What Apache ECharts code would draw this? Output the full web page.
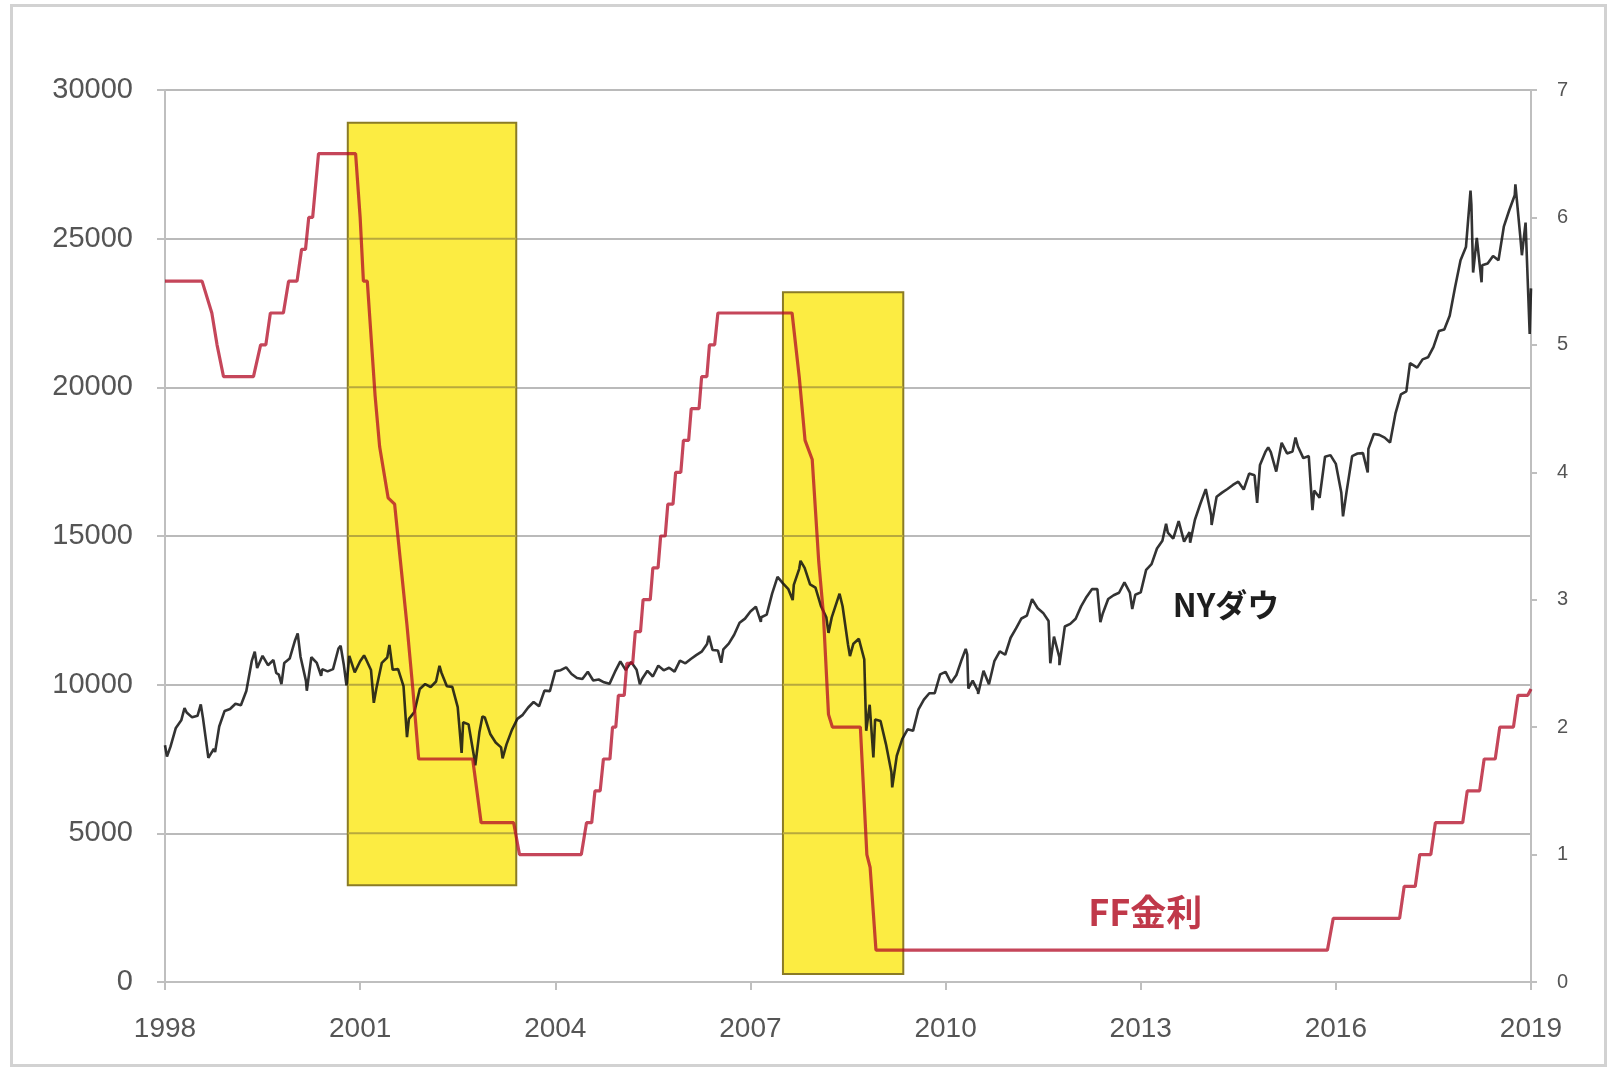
<!DOCTYPE html>
<html><head><meta charset="utf-8">
<script src="https://cdn.jsdelivr.net/npm/echarts/dist/echarts.min.js"></script>
<style>
html,body{margin:0;padding:0;background:#fff;}
#c{position:absolute;left:0;top:0;width:1608px;height:1068px;}
#frame{position:absolute;left:10px;top:4px;width:1591px;height:1057px;border:3px solid #d2d2d2;pointer-events:none;}
</style>
</head><body><div id="c"></div><div id="frame"></div>
<script>
// ---- axis ranges / ticks ----
const xRange = [1998, 2019, 3];
const leftRange = [0, 30000, 5000];
const rightRange = [0, 7, 1];

// ---- NY Dow: month-end closes Jan 1998 .. Dec 2018 ----
const dowMonthlyClose = [
 7907, 8546, 8800, 9063, 8900, 8952, 8883, 7539, 7843, 8592, 9117, 9181,
 9359, 9307, 9786,10789,10560,10971,10655,10829,10337,10730,10878,11497,
10941,10128,10922,10734,10522,10448,10522,11215,10651,10971,10415,10787,
10887,10495, 9879,10735,10912,10502,10523, 9950, 8848, 9075, 9852,10022,
 9920,10106,10404, 9946, 9925, 9243, 8737, 8664, 7592, 8397, 8896, 8342,
 8054, 7891, 7992, 8480, 8850, 8985, 9233, 9416, 9275, 9801, 9782,10454,
10488,10584,10358,10226,10188,10435,10140,10174,10080,10027,10428,10783,
10490,10766,10504,10193,10467,10275,10641,10482,10569,10440,10806,10718,
10865,10993,11109,11367,11168,11150,11186,11381,11679,12081,12222,12463,
12622,12269,12354,13063,13628,13409,13212,13358,13896,13930,13372,13265,
12650,12266,12263,12820,12638,11350,11378,11544,10851, 9325, 8829, 8776,
 8001, 7063, 7609, 8168, 8500, 8447, 9172, 9496, 9712, 9713,10344,10428,
10067,10325,10857,11009,10137, 9774,10466,10015,10788,11118,11006,11578,
11892,12226,12320,12811,12570,12414,12143,11614,10913,11955,12046,12218,
12633,12952,13212,13214,12393,12880,13009,13091,13437,13096,13026,13104,
13861,14054,14579,14840,15116,14910,15500,14810,15130,15546,16086,16577,
15699,16322,16458,16581,16717,16827,16563,17098,17043,17391,17828,17823,
17165,18133,17776,17841,18011,17620,17690,16528,16285,17664,17720,17425,
16466,16517,17685,17774,17787,17930,18432,18401,18308,18142,19124,19763,
19864,20812,20663,20941,21009,21350,21891,21948,22405,23377,24272,24719,
26149,25029,24103,24163,24416,24271,25415,25965,26458,25116,25538,23327
];
// intra-month highs / lows [year, value]
const dowExtremes = [
 [1998.00,7965],[1998.03,7580],[1998.30,9211],[1998.55,9338],[1998.67,7539],[1998.77,7732],
 [1999.38,11107],[1999.71,10393],[1999.79,10019],
 [2000.04,11723],[2000.18,9796],[2000.40,10300],[2000.70,11310],[2000.79,9975],
 [2001.06,10983],[2001.21,9389],[2001.72,8236],[2001.45,11337],
 [2002.22,10635],[2002.56,7702],[2002.77,7286],[2002.88,8931],[2003.19,7524],
 [2005.30,10012],[2006.36,11642],[2006.55,10739],[2007.16,12114],
 [2007.65,12846],[2007.77,14165],[2008.20,11740],[2008.37,13058],[2008.53,10963],
 [2008.78,8451],[2008.89,7552],[2009.18,6547],[2010.31,11205],[2010.35,9870],[2010.50,9686],
 [2011.33,12876],[2011.61,10720],[2011.75,10655],[2012.38,12101],[2012.87,12542],
 [2013.39,15409],[2013.76,14776],[2014.09,15373],[2014.79,16117],[2014.96,17983],
 [2015.38,18312],[2015.64,15871],[2016.11,15660],[2016.49,17140],[2017.14,20812],
 [2018.07,26617],[2018.11,23860],[2018.24,23533],[2018.76,26828],[2018.86,24442],[2018.98,21792]
];

// ---- FF rate path [year, %] ----
const ffRate = [
 [1998.00,5.5],[1998.57,5.5],[1998.72,5.25],[1998.80,5.0],[1998.90,4.75],[1999.36,4.75],
 [1999.47,5.0],[1999.55,5.0],[1999.62,5.25],[1999.82,5.25],[1999.90,5.5],[2000.03,5.5],
 [2000.10,5.75],[2000.16,5.75],[2000.21,6.0],[2000.27,6.0],[2000.36,6.5],[2000.93,6.5],
 [2001.00,6.0],[2001.05,5.5],[2001.11,5.5],[2001.23,4.6],[2001.30,4.2],[2001.43,3.8],
 [2001.53,3.75],[2001.62,3.3],[2001.72,2.8],[2001.81,2.3],[2001.90,1.75],[2002.73,1.75],
 [2002.86,1.25],[2003.36,1.25],[2003.45,1.0],[2004.40,1.0],[2004.48,1.25],[2004.56,1.25],
 [2004.61,1.5],[2004.69,1.5],[2004.74,1.75],[2004.84,1.75],[2004.88,2.0],[2004.93,2.0],
 [2004.97,2.25],[2005.06,2.25],[2005.10,2.5],[2005.19,2.5],[2005.23,2.75],[2005.31,2.75],
 [2005.35,3.0],[2005.46,3.0],[2005.50,3.25],[2005.58,3.25],[2005.62,3.5],[2005.69,3.5],
 [2005.73,3.75],[2005.81,3.75],[2005.85,4.0],[2005.93,4.0],[2005.97,4.25],[2006.05,4.25],
 [2006.09,4.5],[2006.21,4.5],[2006.25,4.75],[2006.33,4.75],[2006.37,5.0],[2006.45,5.0],
 [2006.50,5.25],[2007.64,5.25],[2007.75,4.75],[2007.84,4.25],[2007.95,4.1],[2008.05,3.3],
 [2008.12,2.9],[2008.20,2.1],[2008.26,2.0],[2008.69,2.0],[2008.79,1.0],[2008.84,0.9],
 [2008.93,0.25],[2015.87,0.25],[2015.96,0.5],[2016.98,0.5],[2017.05,0.75],[2017.22,0.75],
 [2017.29,1.0],[2017.46,1.0],[2017.53,1.25],[2017.95,1.25],[2018.02,1.5],[2018.21,1.5],
 [2018.28,1.75],[2018.45,1.75],[2018.52,2.0],[2018.73,2.0],[2018.80,2.25],[2018.95,2.25],
 [2019.00,2.3]
];

// ---- highlighted periods [x0, x1, yTop, yBottom] (left-axis units) ----
const highlightBoxes = [
 [2000.81, 2003.40, 28900, 3250],
 [2007.50, 2009.35, 23200, 270]
];

// ---- annotation labels [text, year, value] ----
const dowLabel = ['NYダウ', 2014.31, 12680];
const ffLabel = ['FF金利', 2013.07, 0.55];

// build dow series data
const dowData = dowMonthlyClose.map((v, i) => [1998 + (i + 1) / 12, v])
  .concat(dowExtremes)
  .sort((a, b) => a[0] - b[0]);

// value-axis grid lines that show through each highlight box: [x0, x1, value]
const boxGridSegs = [];
highlightBoxes.forEach(b => {
  for (let v = leftRange[0]; v <= leftRange[1]; v += leftRange[2]) {
    if (v > b[3] && v < b[2]) boxGridSegs.push([b[0], b[1], v]);
  }
});

const gray = '#bfbfbf';
const gridColor = 'rgba(0,0,0,0.27)';
const labelColor = '#555555';
const fontFam = 'Liberation Sans, Arial, sans-serif';

const boxGridSeries = boxGridSegs.map((s, i) => ({
  name: 'boxgrid' + i, type: 'line', z: 3, yAxisIndex: 0, silent: true,
  symbol: 'none', showSymbol: false,
  data: [[s[0], s[2]], [s[1], s[2]]],
  lineStyle: {color: '#b8a93c', width: 2}
}));

const chart = echarts.init(document.getElementById('c'), null, {renderer: 'canvas'});
chart.setOption({
  animation: false,
  backgroundColor: '#ffffff',
  grid: {left: 165, right: 77, top: 90, bottom: 86, containLabel: false},
  xAxis: {
    type: 'value', min: xRange[0], max: xRange[1], interval: xRange[2],
    axisLine: {show: true, lineStyle: {color: gray, width: 2}},
    axisTick: {show: true, length: 8, lineStyle: {color: gray, width: 2}},
    splitLine: {show: false},
    axisLabel: {margin: 33, fontSize: 28, color: labelColor, fontFamily: fontFam,
      formatter: v => String(Math.round(v))}
  },
  yAxis: [{
    type: 'value', position: 'left', min: leftRange[0], max: leftRange[1], interval: leftRange[2],
    axisLine: {show: true, lineStyle: {color: gray, width: 2}},
    axisTick: {show: true, length: 8, lineStyle: {color: gray, width: 2}},
    splitLine: {show: true, lineStyle: {color: gridColor, width: 2}},
    axisLabel: {margin: 32, fontSize: 29, color: labelColor, fontFamily: fontFam,
      formatter: v => String(Math.round(v))}
  }, {
    type: 'value', position: 'right', min: rightRange[0], max: rightRange[1], interval: rightRange[2],
    axisLine: {show: true, lineStyle: {color: gray, width: 2}},
    axisTick: {show: true, length: 6, lineStyle: {color: gray, width: 2}},
    splitLine: {show: false},
    axisLabel: {margin: 26, fontSize: 20, color: labelColor, fontFamily: fontFam}
  }],
  series: [{
    name: 'box', type: 'custom', z: 1, silent: true, yAxisIndex: 0,
    data: highlightBoxes,
    encode: {x: [0, 1], y: [2, 3]},
    renderItem: (params, api) => {
      const p0 = api.coord([api.value(0), api.value(2)]);
      const p1 = api.coord([api.value(1), api.value(3)]);
      return {
        type: 'rect',
        shape: {x: p0[0], y: p0[1], width: p1[0] - p0[0], height: p1[1] - p0[1]},
        style: {fill: 'rgb(252,236,66)', stroke: '#8a7b26', lineWidth: 2}
      };
    }
  }].concat(boxGridSeries).concat([{
    name: 'NYダウ', type: 'line', z: 4, yAxisIndex: 0, data: dowData,
    showSymbol: false, symbol: 'none',
    lineStyle: {color: '#111111', width: 2.6, opacity: 0.86},
    markPoint: {
      symbol: 'circle', symbolSize: 0, silent: true,
      data: [{coord: [dowLabel[1], dowLabel[2]],
        label: {show: true, position: 'inside', formatter: dowLabel[0], fontSize: 32, fontWeight: 'bold',
          color: '#1e1e1e', fontFamily: 'Noto Sans CJK JP, Noto Sans, sans-serif'}}]
    }
  }, {
    name: 'FF金利', type: 'line', z: 5, yAxisIndex: 1, data: ffRate,
    showSymbol: false, symbol: 'none',
    lineStyle: {color: '#b30c26', width: 3.2, opacity: 0.76},
    markPoint: {
      symbol: 'circle', symbolSize: 0, silent: true,
      data: [{coord: [ffLabel[1], ffLabel[2]],
        label: {show: true, position: 'inside', formatter: ffLabel[0], fontSize: 36, fontWeight: 'bold',
          color: '#c0394a', fontFamily: 'Noto Sans CJK JP, Noto Sans, sans-serif'}}]
    }
  }])
});
</script></body></html>
